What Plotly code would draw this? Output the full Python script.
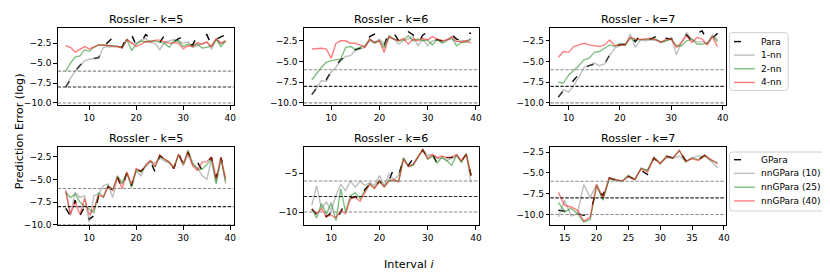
import plotly.graph_objects as go

FIG_W, FIG_H = 830, 275
FONT = "DejaVu Sans"

# ---------------- data ----------------
intervals_k5 = list(range(5, 40))
intervals_k6 = list(range(6, 40))
intervals_k7_top = list(range(8, 40))
intervals_k7_bottom = list(range(14, 40))

top_names = ["Para", "1-nn", "2-nn", "4-nn"]
bottom_names = ["GPara", "nnGPara (10)", "nnGPara (25)", "nnGPara (40)"]

# top row, k=5
para_top_k5 = [-8.0, -7.0, -6.0, -5.3, -4.7, -4.5, -4.4, -4.3, -2.9, -2.3, -1.8, -2.6, -3.0, -1.45, -1.4,
               -2.8, -2.4, -1.4, -1.8, -2.3, -2.4, -1.5, -2.0, -2.3, -1.9, -1.7, -2.6, -2.7, -1.5, -1.45,
               -1.4, -2.7, -2.0, -1.7, -1.4]
nn1_top_k5 = [-8.0, -6.9, -6.0, -5.3, -4.7, -4.5, -4.4, -4.4, -3.0, -2.9, -2.9, -2.95, -3.0, -2.0, -2.5,
              -2.5, -2.1, -1.9, -2.4, -2.5, -3.3, -2.4, -2.2, -2.0, -2.2, -2.5, -2.3, -3.0, -2.8, -2.5,
              -2.4, -3.2, -2.0, -2.5, -2.2]
nn2_top_k5 = [-6.0, -5.0, -4.2, -4.1, -3.3, -3.5, -3.0, -2.7, -2.7, -2.75, -2.8, -2.85, -3.0, -2.0, -3.4,
              -2.6, -2.2, -2.3, -2.2, -2.2, -2.35, -2.5, -3.0, -2.2, -2.2, -2.9, -2.6, -2.8, -2.6, -3.1,
              -3.0, -2.8, -2.0, -2.9, -2.2]
nn4_top_k5 = [-2.8, -3.0, -3.6, -3.3, -2.9, -3.2, -2.9, -2.7, -2.7, -2.8, -2.85, -2.9, -3.1, -2.0, -2.5,
              -2.9, -2.6, -2.3, -2.3, -2.1, -2.1, -2.3, -2.5, -2.4, -2.5, -3.2, -2.8, -2.9, -2.4, -2.6,
              -2.3, -2.9, -1.9, -2.5, -2.2]

# top row, k=6
para_top_k6 = [-9.0, -8.2, -7.4, -7.2, -6.2, -5.5, -4.8, -4.4, -4.1, -3.6, -3.4, -3.2, -2.0, -1.7, -2.5,
               -3.0, -1.4, -1.6, -2.5, -2.3, -1.4, -1.8, -2.8, -1.8, -1.5, -2.3, -2.4, -2.5, -1.75, -1.75,
               -2.3, -2.4, -1.6, -1.6]
nn1_top_k6 = [-9.0, -8.2, -7.3, -7.4, -6.3, -5.7, -4.9, -4.4, -4.3, -3.7, -3.5, -3.3, -2.5, -2.7, -2.3,
              -2.9, -2.1, -2.3, -2.9, -2.5, -2.3, -2.0, -3.1, -2.3, -3.1, -2.5, -2.4, -2.7, -2.3, -2.3,
              -2.6, -2.5, -2.5, -2.2]
nn2_top_k6 = [-7.2, -6.45, -5.7, -5.1, -4.9, -4.8, -4.7, -3.3, -3.2, -3.5, -3.3, -3.1, -2.3, -2.8, -2.5,
              -3.4, -1.9, -2.3, -2.5, -2.4, -1.9, -2.5, -2.3, -2.5, -2.4, -3.0, -2.3, -2.8, -2.5, -2.1,
              -3.1, -2.7, -2.7, -2.3]
nn4_top_k6 = [-3.5, -3.45, -3.4, -3.5, -4.6, -2.8, -2.5, -2.5, -2.8, -2.8, -3.0, -3.3, -2.3, -2.7, -2.5,
              -3.9, -2.0, -2.3, -2.5, -2.2, -2.9, -2.3, -2.5, -2.2, -2.4, -2.0, -2.3, -2.5, -2.4, -2.0,
              -2.55, -2.65, -2.5, -2.8]

# top row, k=7
para_top_k7 = [-9.3, -8.5, -8.0, -7.3, -6.5, -5.8, -5.5, -5.3, -5.5, -5.3, -4.2, -3.3, -3.0, -2.9, -2.0,
               -2.6, -1.8, -2.3, -2.3, -2.0, -1.5, -2.2, -2.3, -2.1, -1.7, -1.8, -2.5, -1.6, -1.3, -2.5,
               -2.2, -1.6]
nn1_top_k7 = [-9.2, -8.4, -8.7, -7.9, -6.9, -5.7, -5.5, -5.2, -5.5, -5.3, -4.3, -3.4, -3.0, -3.1, -1.7,
              -3.3, -2.4, -2.5, -2.4, -2.45, -2.6, -2.5, -2.1, -4.2, -2.6, -1.5, -2.4, -2.6, -2.6, -2.8,
              -1.8, -2.4]
nn2_top_k7 = [-7.5, -7.6, -6.65, -6.1, -5.5, -4.8, -4.6, -3.9, -3.8, -3.4, -3.0, -3.2, -2.8, -3.0, -2.2,
              -2.4, -2.4, -2.3, -2.3, -2.3, -2.7, -2.5, -2.3, -3.1, -3.1, -2.5, -2.3, -2.9, -2.9, -2.8,
              -2.0, -2.6]
nn4_top_k7 = [-4.5, -3.8, -3.9, -3.2, -3.0, -2.8, -3.0, -3.1, -3.2, -3.0, -2.4, -3.1, -3.0, -3.0, -2.1,
              -2.3, -2.3, -2.3, -2.2, -2.4, -2.7, -2.3, -2.3, -3.3, -2.7, -1.9, -2.7, -2.1, -2.3, -3.0,
              -2.0, -3.2]

# bottom row, k=5
gpara_bot_k5 = [-8.2, -9.0, -7.3, -9.0, -8.0, -9.4, -9.0, -6.8, -6.9, -5.8, -6.2, -4.8, -6.0, -4.2, -5.7,
                -3.9, -4.1, -3.5, -3.0, -4.2, -2.4, -2.8, -3.1, -3.8, -2.1, -3.4, -2.0, -3.3, -3.1, -4.0,
                -3.2, -2.6, -4.8, -2.6, -4.3]
ng10_bot_k5 = [-6.3, -9.0, -6.4, -7.0, -6.8, -9.7, -6.8, -6.6, -5.7, -5.5, -7.0, -4.7, -5.3, -4.4, -5.5,
               -4.1, -4.6, -3.3, -3.0, -3.2, -2.6, -3.0, -3.2, -3.7, -2.3, -3.5, -2.3, -3.4, -3.7, -4.6,
               -5.0, -2.8, -5.3, -2.6, -5.5]
ng25_bot_k5 = [-6.4, -7.0, -6.6, -7.5, -7.9, -8.3, -8.65, -6.45, -7.0, -5.7, -6.1, -4.6, -5.5, -4.25, -5.9,
               -3.95, -4.2, -3.6, -3.0, -3.6, -2.4, -2.8, -3.1, -3.7, -2.3, -3.3, -1.8, -3.2, -3.9, -3.9,
               -3.3, -2.8, -5.5, -2.7, -5.2]
ng40_bot_k5 = [-6.2, -8.85, -7.5, -8.85, -7.1, -8.9, -8.2, -6.75, -6.9, -5.8, -6.2, -4.75, -6.0, -4.2, -5.6,
               -3.8, -4.1, -3.5, -2.9, -3.6, -2.3, -2.75, -3.1, -3.8, -2.2, -3.3, -1.95, -3.5, -4.0, -3.1,
               -3.05, -2.5, -4.9, -2.6, -4.9]

# bottom row, k=6
gpara_bot_k6 = [-9.6, -10.3, -9.7, -10.6, -10.1, -10.9, -10.0, -8.6, -8.2, -8.0, -8.5, -7.1, -6.4, -7.0,
                -6.0, -6.7, -5.9, -4.4, -5.2, -3.2, -4.0, -3.1, -3.0, -2.0, -3.1, -2.5, -3.8, -3.0, -3.0,
                -3.0, -2.6, -3.4, -2.6, -5.3]
ng10_bot_k6 = [-9.15, -6.6, -9.6, -8.7, -9.8, -7.9, -6.4, -7.25, -6.0, -6.8, -6.0, -6.6, -6.2, -6.6,
               -5.3, -6.6, -5.1, -5.85, -5.25, -3.1, -4.1, -3.9, -2.8, -2.0, -2.7, -2.6, -3.1, -3.1, -3.4,
               -3.1, -2.8, -3.5, -2.5, -6.2]
ng25_bot_k6 = [-9.6, -10.75, -8.9, -10.3, -8.8, -11.1, -7.0, -10.0, -7.9, -7.5, -8.3, -7.25, -6.4, -6.9,
               -6.0, -6.7, -5.85, -6.0, -6.0, -3.0, -4.1, -4.0, -3.0, -1.95, -3.2, -2.8, -3.7, -2.9, -3.4,
               -4.0, -2.6, -3.6, -2.5, -5.3]
ng40_bot_k6 = [-9.6, -10.2, -9.6, -10.6, -10.4, -10.75, -9.8, -10.2, -8.3, -8.1, -8.6, -7.5, -6.4, -7.0,
               -6.0, -6.8, -6.0, -5.85, -6.1, -3.2, -4.15, -3.85, -3.0, -2.0, -3.1, -2.6, -3.0, -2.8, -3.0,
               -2.9, -2.6, -3.4, -2.6, -5.3]

# bottom row, k=7
gpara_bot_k7 = [-9.5, -9.6, -9.5, -9.9, -10.1, -9.8, -7.0, -7.7, -5.6, -5.9, -6.0, -5.4, -5.8, -4.7, -5.2,
                -3.2, -3.9, -3.0, -3.2, -2.4, -3.5, -3.3, -3.4, -2.9, -3.4, -3.8]
ng10_bot_k7 = [-10.3, -8.3, -10.2, -9.9, -6.4, -7.95, -6.4, -8.3, -5.6, -5.8, -6.0, -5.5, -5.8, -4.4, -4.7,
               -3.1, -3.8, -3.2, -3.2, -3.0, -3.6, -3.2, -2.95, -3.0, -3.6, -4.4]
ng25_bot_k7 = [-8.55, -9.7, -9.25, -9.9, -10.9, -10.6, -6.6, -8.2, -5.7, -5.85, -6.0, -5.3, -5.8, -4.5, -4.7,
               -3.2, -3.9, -3.0, -3.2, -2.3, -3.7, -3.2, -3.4, -2.9, -3.5, -3.8]
ng40_bot_k7 = [-7.35, -8.9, -9.1, -9.5, -10.8, -10.3, -6.4, -7.95, -5.6, -5.8, -6.0, -5.4, -5.8, -4.5, -4.9,
               -3.2, -3.9, -3.0, -3.2, -2.3, -3.6, -3.3, -3.5, -2.9, -3.4, -3.9]

panel_titles = ["Rossler - k=5", "Rossler - k=6", "Rossler - k=7",
                "Rossler - k=5", "Rossler - k=6", "Rossler - k=7"]

gray_thresholds = [-6, -10]
black_thresholds = [-8]

y_ticks_std = [-2.5, -5.0, -7.5, -10.0]
y_ticklabels_std = ["\u22122.5", "\u22125.0", "\u22127.5", "\u221210.0"]
y_ticks_k6b = [-5, -10]
y_ticklabels_k6b = ["\u22125", "\u221210"]
x_ticks_std = [10, 20, 30, 40]
x_ticks_k7b = [15, 20, 25, 30, 35, 40]

# ---------------- styling / layout ----------------
styles = [
    dict(color="black", width=1.4, dash="7px,14px"),
    dict(color="rgba(128,128,128,0.5)", width=1.4, dash="solid"),
    dict(color="rgba(0,128,0,0.5)", width=1.4, dash="solid"),
    dict(color="rgba(255,0,0,0.5)", width=1.4, dash="solid"),
]

col_px = [(50.0, 226.7), (297.3, 473.3), (545.0, 721.0)]
row_px = [(20.7, 99.3), (141.7, 221.3)]


def fx(px):
    return px / FIG_W


def fy(py):
    return 1 - py / FIG_H


panels = [
    dict(x=intervals_k5, ys=[para_top_k5, nn1_top_k5, nn2_top_k5, nn4_top_k5], names=top_names,
         xr=[3.3, 40.7], yr=[-10.32, -0.61], yt=(y_ticks_std, y_ticklabels_std), xt=x_ticks_std),
    dict(x=intervals_k6, ys=[para_top_k6, nn1_top_k6, nn2_top_k6, nn4_top_k6], names=top_names,
         xr=[4.35, 40.65], yr=[-10.31, -1.0], yt=(y_ticks_std, y_ticklabels_std), xt=x_ticks_std),
    dict(x=intervals_k7_top, ys=[para_top_k7, nn1_top_k7, nn2_top_k7, nn4_top_k7], names=top_names,
         xr=[6.45, 40.55], yr=[-10.31, -1.0], yt=(y_ticks_std, y_ticklabels_std), xt=x_ticks_std),
    dict(x=intervals_k5, ys=[gpara_bot_k5, ng10_bot_k5, ng25_bot_k5, ng40_bot_k5], names=bottom_names,
         xr=[3.3, 40.7], yr=[-10.05, -1.45], yt=(y_ticks_std, y_ticklabels_std), xt=x_ticks_std),
    dict(x=intervals_k6, ys=[gpara_bot_k6, ng10_bot_k6, ng25_bot_k6, ng40_bot_k6], names=bottom_names,
         xr=[4.35, 40.65], yr=[-11.7, -1.65], yt=(y_ticks_k6b, y_ticklabels_k6b), xt=x_ticks_std),
    dict(x=intervals_k7_bottom, ys=[gpara_bot_k7, ng10_bot_k7, ng25_bot_k7, ng40_bot_k7], names=bottom_names,
         xr=[12.75, 40.25], yr=[-11.3, -1.9], yt=(y_ticks_std, y_ticklabels_std), xt=x_ticks_k7b),
]

fig = go.Figure()
layout = dict(
    width=FIG_W, height=FIG_H, margin=dict(l=0, r=0, t=0, b=0),
    paper_bgcolor="white", plot_bgcolor="white", showlegend=False,
    font=dict(family=FONT, color="black", size=9),
)
shapes = []
annotations = []

for i, p in enumerate(panels):
    n = i + 1
    sfx = "" if n == 1 else str(n)
    row, col = divmod(i, 3)
    x0, x1 = col_px[col]
    y0, y1 = row_px[row]
    xa = dict(domain=[fx(x0), fx(x1)], range=p["xr"], anchor="y" + sfx, showgrid=False, zeroline=False,
              showline=True, mirror=True, linecolor="black", linewidth=1,
              ticks="outside", ticklen=3.5, tickwidth=0.9, tickcolor="black",
              tickvals=p["xt"], ticktext=[str(v) for v in p["xt"]],
              tickfont=dict(family=FONT, size=9, color="black"))
    ya = dict(domain=[fy(y1), fy(y0)], range=p["yr"], anchor="x" + sfx, showgrid=False, zeroline=False,
              showline=True, mirror=True, linecolor="black", linewidth=1,
              ticks="outside", ticklen=3.5, tickwidth=0.9, tickcolor="black",
              tickvals=p["yt"][0], ticktext=p["yt"][1],
              tickfont=dict(family=FONT, size=9, color="black"))
    layout["xaxis" + sfx] = xa
    layout["yaxis" + sfx] = ya

    for ys, name, st in zip(p["ys"], p["names"], styles):
        fig.add_trace(go.Scatter(x=p["x"], y=ys, mode="lines", name=name, line=st,
                                 xaxis="x" + sfx, yaxis="y" + sfx, showlegend=False))

    for v in gray_thresholds:
        shapes.append(dict(type="line", xref="x" + sfx + " domain", yref="y" + sfx, x0=0, x1=1, y0=v, y1=v,
                           line=dict(color="rgba(128,128,128,0.9)", width=1.1, dash="3.4px,1.6px")))
    for v in black_thresholds:
        shapes.append(dict(type="line", xref="x" + sfx + " domain", yref="y" + sfx, x0=0, x1=1, y0=v, y1=v,
                           line=dict(color="rgba(0,0,0,0.85)", width=1.1, dash="3.4px,1.6px")))

    annotations.append(dict(text=panel_titles[i], xref="paper", yref="paper",
                            x=fx((x0 + x1) / 2), y=fy(y0 - 9.2), xanchor="center", yanchor="middle",
                            showarrow=False, font=dict(family=FONT, size=11.2, color="black")))

# axis labels
annotations.append(dict(text="Prediction Error (log)", xref="paper", yref="paper", x=fx(11.5), y=fy(125),
                        xanchor="center", yanchor="middle", textangle=-90, showarrow=False,
                        font=dict(family=FONT, size=11.2, color="black")))
annotations.append(dict(text="Interval <i>i</i>", xref="paper", yref="paper", x=fx(403), y=fy(261.5),
                        xanchor="center", yanchor="middle", showarrow=False,
                        font=dict(family=FONT, size=11.2, color="black")))


# legends (matplotlib style boxes)
def rounded_box(xa, ya, xb, yb, r=3.0):
    rx, ry = r / FIG_W, r / FIG_H
    X0, X1 = fx(xa), fx(xb)
    Y0, Y1 = fy(yb), fy(ya)  # Y1 top
    return (f"M {X0 + rx},{Y1} L {X1 - rx},{Y1} Q {X1},{Y1} {X1},{Y1 - ry} "
            f"L {X1},{Y0 + ry} Q {X1},{Y0} {X1 - rx},{Y0} L {X0 + rx},{Y0} "
            f"Q {X0},{Y0} {X0},{Y0 + ry} L {X0},{Y1 - ry} Q {X0},{Y1} {X0 + rx},{Y1} Z")


legend_boxes = [
    dict(box=(725.0, 25.0, 784.0, 84.0), rows=[34.2, 48.0, 61.9, 75.8], names=top_names),
    dict(box=(725.0, 146.7, 823.5, 206.7), rows=[154.5, 168.4, 182.5, 196.5], names=bottom_names),
]
for lg in legend_boxes:
    bx0, by0, bx1, by1 = lg["box"]
    shapes.append(dict(type="path", xref="paper", yref="paper", path=rounded_box(bx0, by0, bx1, by1),
                       line=dict(color="#cccccc", width=0.9), fillcolor="rgba(255,255,255,0.8)", layer="above"))
    for yy, name, st in zip(lg["rows"], lg["names"], styles):
        shapes.append(dict(type="line", xref="paper", yref="paper", x0=fx(729.5), x1=fx(750.5),
                           y0=fy(yy), y1=fy(yy), line=dict(color=st["color"], width=st["width"], dash=st["dash"])))
        annotations.append(dict(text=name, xref="paper", yref="paper", x=fx(754.5), y=fy(yy),
                                xanchor="left", yanchor="middle", showarrow=False,
                                font=dict(family=FONT, size=9, color="black")))

layout["shapes"] = shapes
layout["annotations"] = annotations
fig.update_layout(**layout)
fig.write_html("out.html")
